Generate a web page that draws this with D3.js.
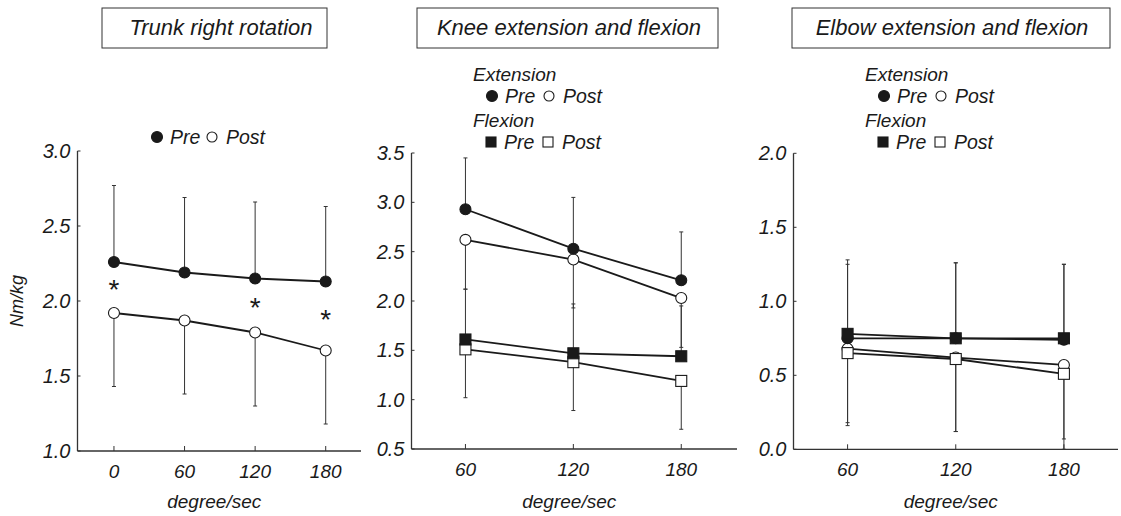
<!DOCTYPE html>
<html>
<head>
<meta charset="utf-8">
<script src="https://cdn.jsdelivr.net/npm/d3@7"></script>
<style>
  body { margin: 0; background: #fff; }
  svg text { font-family: "Liberation Sans", Arial, sans-serif; font-style: italic; fill: #1a1a1a; }
</style>
</head>
<body>
<svg id="chart" width="1121" height="516"></svg>
<script>
// trunk right rotation
var trunkSpeeds = [0, 60, 120, 180];
var trunkPre = [2.26, 2.19, 2.15, 2.13];
var trunkPreSD = [0.51, 0.50, 0.51, 0.50];
var trunkPost = [1.92, 1.87, 1.79, 1.67];
var trunkPostSD = [0.49, 0.49, 0.49, 0.49];
var trunkStars = [2.09, null, 1.97, 1.89];

// knee extension / flexion
var limbSpeeds = [60, 120, 180];
var kneeExtPre = [2.93, 2.53, 2.21];
var kneeExtPreSD = [0.52, 0.52, 0.49];
var kneeExtPost = [2.62, 2.42, 2.03];
var kneeExtPostSD = [0.50, 0.49, 0.50];
var kneeFlexPre = [1.61, 1.47, 1.44];
var kneeFlexPreSD = [0.51, 0.50, 0.51];
var kneeFlexPost = [1.51, 1.38, 1.19];
var kneeFlexPostSD = [0.49, 0.49, 0.49];

// elbow extension / flexion
var elbowExtPre = [0.75, 0.75, 0.74];
var elbowExtPreSD = [0.50, 0.51, 0.51];
var elbowExtPost = [0.68, 0.62, 0.57];
var elbowExtPostSD = [0.52, 0.50, 0.50];
var elbowFlexPre = [0.78, 0.75, 0.75];
var elbowFlexPreSD = [0.50, 0.51, 0.50];
var elbowFlexPost = [0.65, 0.61, 0.51];
var elbowFlexPostSD = [0.47, 0.49, 0.51];

var titles = ["Trunk right rotation", "Knee extension and flexion", "Elbow extension and flexion"];
var yTicks1 = [1.0, 1.5, 2.0, 2.5, 3.0];
var yTicks2 = [0.5, 1.0, 1.5, 2.0, 2.5, 3.0, 3.5];
var yTicks3 = [0.0, 0.5, 1.0, 1.5, 2.0];

var svg = d3.select("#chart");
var ink = "#1a1a1a";
var axisInk = "#333";
var fmt = d3.format(".1f");

function makePanel(o) {
  var x = d3.scaleLinear().domain(o.xDomain).range(o.xRange);
  var y = d3.scaleLinear().domain(o.yDomain).range(o.yRange);
  var g = svg.append("g");

  // title box
  g.append("rect")
    .attr("x", o.box[0]).attr("y", 8)
    .attr("width", o.box[1] - o.box[0]).attr("height", 40)
    .attr("fill", "none").attr("stroke", axisInk).attr("stroke-width", 1);
  g.append("text")
    .attr("x", o.titleX).attr("y", 27).attr("dy", "0.35em")
    .attr("text-anchor", "middle").style("font-size", "22px")
    .text(o.title);

  // axes
  var x0 = o.xRange[0], y0 = o.yRange[0];
  g.append("line").attr("x1", x0).attr("x2", x0)
    .attr("y1", y(o.yDomain[1])).attr("y2", y0)
    .attr("stroke", axisInk).attr("stroke-width", 1.3);
  g.append("line").attr("x1", x0).attr("x2", o.xRange[1])
    .attr("y1", y0).attr("y2", y0)
    .attr("stroke", axisInk).attr("stroke-width", 1.3);

  g.selectAll(".yt").data(o.yTicks).enter().append("line")
    .attr("x1", x0).attr("x2", x0 + 3)
    .attr("y1", function(d) { return y(d); }).attr("y2", function(d) { return y(d); })
    .attr("stroke", axisInk);
  g.selectAll(".yl").data(o.yTicks).enter().append("text")
    .attr("x", x0 - 7).attr("y", function(d) { return y(d); }).attr("dy", "0.35em")
    .attr("text-anchor", "end").style("font-size", "20px")
    .text(function(d) { return fmt(d); });

  g.selectAll(".xt").data(o.speeds).enter().append("line")
    .attr("x1", function(d) { return x(d); }).attr("x2", function(d) { return x(d); })
    .attr("y1", y0).attr("y2", y0 - 5)
    .attr("stroke", axisInk);
  g.selectAll(".xl").data(o.speeds).enter().append("text")
    .attr("x", function(d) { return x(d); }).attr("y", y0 + 20).attr("dy", "0.35em")
    .attr("text-anchor", "middle").style("font-size", "19px")
    .text(function(d) { return d; });
  g.append("text")
    .attr("x", (x0 + o.xRange[1]) / 2 - 5).attr("y", 501).attr("dy", "0.35em")
    .attr("text-anchor", "middle").style("font-size", "19px")
    .text("degree/sec");

  var line = d3.line().x(function(d) { return x(d[0]); }).y(function(d) { return y(d[1]); });

  function series(vals, sds, dir, shape, filled) {
    var pts = o.speeds.map(function(s, i) { return [s, vals[i], sds[i]]; });
    return { pts: pts, dir: dir, shape: shape, filled: filled };
  }
  var all = o.series.map(function(s) { return series.apply(null, s); });

  // error bars (pre upward, post downward)
  all.forEach(function(s) {
    s.pts.forEach(function(p) {
      var yEnd = y(p[1] + s.dir * p[2]);
      g.append("line").attr("x1", x(p[0])).attr("x2", x(p[0]))
        .attr("y1", y(p[1])).attr("y2", yEnd)
        .attr("stroke", axisInk).attr("stroke-width", 1);
      g.append("line").attr("x1", x(p[0]) - 2).attr("x2", x(p[0]) + 2)
        .attr("y1", yEnd).attr("y2", yEnd)
        .attr("stroke", axisInk).attr("stroke-width", 1);
    });
  });
  // lines
  all.forEach(function(s) {
    g.append("path").datum(s.pts).attr("d", line)
      .attr("fill", "none").attr("stroke", ink).attr("stroke-width", 1.8);
  });
  // markers
  all.forEach(function(s) {
    s.pts.forEach(function(p) {
      drawMarker(g, s.shape, s.filled, x(p[0]), y(p[1]), o.size);
    });
  });
  return { g: g, x: x, y: y };
}

function drawMarker(g, shape, filled, cx, cy, size) {
  if (shape === "circle") {
    g.append("circle").attr("cx", cx).attr("cy", cy).attr("r", size)
      .attr("fill", filled ? ink : "#fff").attr("stroke", ink).attr("stroke-width", 1.1);
  } else {
    g.append("rect").attr("x", cx - size).attr("y", cy - size)
      .attr("width", size * 2).attr("height", size * 2)
      .attr("fill", filled ? ink : "#fff").attr("stroke", ink).attr("stroke-width", 1.1);
  }
}

function legendRow(g, shape, x1, x2, yy) {
  drawMarker(g, shape, true, x1, yy, shape === "circle" ? 5.5 : 5);
  g.append("text").attr("x", x1 + 13).attr("y", yy).attr("dy", "0.35em")
    .style("font-size", "19.5px").text("Pre");
  drawMarker(g, shape, false, x2, yy, 5);
  g.append("text").attr("x", x2 + 14).attr("y", yy).attr("dy", "0.35em")
    .style("font-size", "19.5px").text("Post");
}

function limbLegend(g, lx) {
  g.append("text").attr("x", lx).attr("y", 74).attr("dy", "0.35em")
    .style("font-size", "19px").text("Extension");
  legendRow(g, "circle", lx + 19, lx + 76, 96);
  g.append("text").attr("x", lx).attr("y", 120).attr("dy", "0.35em")
    .style("font-size", "19px").text("Flexion");
  legendRow(g, "square", lx + 18, lx + 75, 142);
}

// panel 1
var p1 = makePanel({
  title: titles[0], box: [102, 327], titleX: 221,
  speeds: trunkSpeeds, xDomain: [-31, 210], xRange: [77.5, 361],
  yDomain: [1, 3], yRange: [451, 151], yTicks: yTicks1, size: 5.5,
  series: [
    [trunkPre, trunkPreSD, 1, "circle", true],
    [trunkPost, trunkPostSD, -1, "circle", false]
  ]
});
legendRow(p1.g, "circle", 157, 212, 137);
trunkSpeeds.forEach(function(s, i) {
  if (trunkStars[i] == null) return;
  p1.g.append("text").attr("x", p1.x(s)).attr("y", p1.y(trunkStars[i]) + 11)
    .attr("text-anchor", "middle").style("font-size", "28px").style("font-style", "normal")
    .text("*");
});
svg.append("text")
  .attr("transform", "translate(23,301) rotate(-90)")
  .attr("text-anchor", "middle").style("font-size", "18px")
  .text("Nm/kg");

// panel 2
var p2 = makePanel({
  title: titles[1], box: [417, 718], titleX: 569,
  speeds: limbSpeeds, xDomain: [30, 211], xRange: [411.5, 737],
  yDomain: [0.5, 3.5], yRange: [449, 153], yTicks: yTicks2, size: 5.5,
  series: [
    [kneeFlexPost, kneeFlexPostSD, -1, "square", false],
    [kneeFlexPre, kneeFlexPreSD, 1, "square", true],
    [kneeExtPost, kneeExtPostSD, -1, "circle", false],
    [kneeExtPre, kneeExtPreSD, 1, "circle", true]
  ]
});
limbLegend(p2.g, 473);

// panel 3
var p3 = makePanel({
  title: titles[2], box: [792, 1110], titleX: 952,
  speeds: limbSpeeds, xDomain: [30, 210], xRange: [793.5, 1118],
  yDomain: [0, 2], yRange: [449.3, 153.3], yTicks: yTicks3, size: 5.5,
  series: [
    [elbowExtPost, elbowExtPostSD, -1, "circle", false],
    [elbowFlexPost, elbowFlexPostSD, -1, "square", false],
    [elbowExtPre, elbowExtPreSD, 1, "circle", true],
    [elbowFlexPre, elbowFlexPreSD, 1, "square", true]
  ]
});
limbLegend(p3.g, 865);
</script>
</body>
</html>
